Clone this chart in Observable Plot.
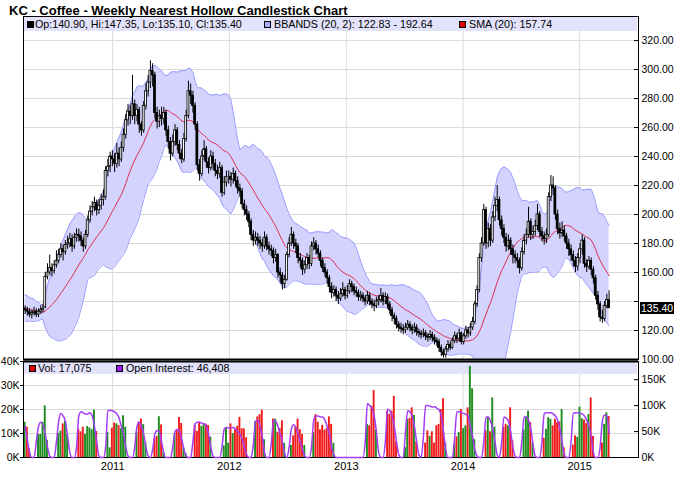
<!DOCTYPE html>
<html><head><meta charset="utf-8">
<script src="https://cdn.jsdelivr.net/npm/d3@7"></script>
<script src="https://cdn.jsdelivr.net/npm/@observablehq/plot@0.6"></script>
<style>
body{margin:0;background:#fff;}
#chart{position:relative;width:679px;height:497px;font-family:"Liberation Sans",Arial,sans-serif;overflow:hidden;background:#fff;}
#chart svg{position:absolute;left:0;top:0;}
.title{position:absolute;left:9px;top:3px;font-weight:bold;font-size:13px;color:#000;white-space:nowrap;}
.band{position:absolute;background:#e2e2fa;}
.lg{position:absolute;font-size:10.7px;white-space:nowrap;color:#000;line-height:12px;}
.sq{position:absolute;width:5px;height:5px;border:1px solid #000;}
.pbox{position:absolute;background:#000;color:#fff;font-size:10.5px;line-height:12px;padding:0 1px;white-space:nowrap;}
</style>
</head><body><div id="chart"></div>
<script>
// ---------- DATA ----------
const firstWeek = "2010-04-02"; // weekly candles (Fridays) through 2015-04-03
const lastWeek = "2015-04-03";
const yearTicks = ["2011-01-01","2012-01-01","2013-01-01","2014-01-01","2015-01-01"];
const priceTicks = [100,120,140,160,180,200,220,240,260,280,300,320];
const volTicks = [0,10,20,30,40];          // thousands
const oiTicks = [0,50,100,150];            // thousands

// values printed in the legends of the reference
const legendBBands = [122.83, 192.64];
const legendSMA = 157.74;
const legendVol = 17075;
const legendOI = 46408;

// closes of the 19 weeks before the first drawn week (for the 20-week bands)
const warmupCloses = [141,143,140,138,142,139,141,137,140,136,132,130,131,133,130,128,132,134,131];

const opens = [
135,134,133,131,132,133,131,133,134,136,
157,160,163,161,165,168,172,176,174,179,
180,183,178,184,186,185,182,178,186,196,
202,205,208,203,206,210,212,230,233,240,
238,235,242,238,246,255,265,271,268,276,
268,272,262,258,275,285,291,299,296,270,
264,268,266,270,258,250,242,250,258,248,
242,238,252,268,285,282,275,262,234,228,
240,245,236,232,240,235,230,228,232,215,
222,226,226,224,228,223,218,216,207,203,
200,195,186,182,184,182,180,178,184,178,
176,175,170,172,160,158,152,155,172,180,
186,180,178,170,168,162,165,170,166,178,
180,176,173,168,163,160,156,150,146,148,
144,142,145,148,144,147,152,150,147,146,
143,144,142,140,144,140,138,137,140,141,
144,140,143,138,134,130,128,124,122,121,
120,122,124,122,120,122,119,118,117,118,
116,115,117,115,113,112,108,105,103,107,
110,108,113,116,114,118,112,116,120,118,
122,126,138,148,170,180,203,180,190,182,
198,206,210,196,190,184,178,182,176,172,
170,168,163,174,182,186,195,186,188,192,
200,188,185,183,186,212,220,218,200,190,
187,189,185,180,176,172,168,164,170,176,
182,166,164,168,162,156,144,138,129,128,
137,140.9];

const highs = [
137,136,135,134,136,135,135,137,138,160,
166,172,166,168,175,176,180,179,182,185,
187,186,187,190,190,188,184,189,199,206,
209,212,210,210,214,217,233,238,243,244,
242,249,246,250,259,269,276,275,296,279,
276,274,264,278,290,296,306,304,298,274,
272,274,274,272,261,253,255,262,260,251,
245,256,272,292,290,285,277,264,238,244,
251,247,239,244,243,238,234,236,234,226,
230,230,229,232,230,226,221,218,210,206,
202,197,189,188,187,185,183,188,186,181,
179,177,176,173,163,160,158,174,184,191,
188,183,180,173,170,168,173,172,181,184,
182,179,175,170,166,162,158,153,151,150,
147,149,153,150,151,155,154,152,150,148,
147,146,144,147,146,142,141,143,144,149,
146,146,145,140,136,132,130,126,125,124,
125,127,126,124,125,124,121,120,121,120,
118,120,119,117,115,114,110,107,109,113,
112,115,119,118,121,119,118,123,122,125,
129,140,151,173,184,207,205,194,193,202,
212,220,212,199,193,187,186,184,179,175,
173,170,177,186,190,205,197,192,196,207,
202,191,188,190,215,227,226,220,203,194,
195,192,187,183,179,175,171,173,180,186,
184,169,171,170,164,158,147,140,134,140,
145,147.35];

const lows = [
131,130,129,128,130,129,129,131,132,135,
155,158,157,159,163,166,170,168,172,176,
177,174,176,181,181,178,174,176,184,194,
199,202,199,200,203,206,210,226,229,233,
229,232,233,236,243,252,261,262,265,262,
264,256,254,256,272,281,287,288,266,259,
260,261,262,254,245,237,240,247,244,238,
235,236,250,266,276,270,258,230,223,226,
237,232,228,230,231,226,224,225,212,213,
219,221,219,221,219,214,212,204,199,196,
191,182,178,179,178,176,174,176,175,172,
171,166,167,156,153,148,149,154,170,178,
176,173,166,163,158,159,162,162,164,175,
172,170,164,160,157,152,146,142,143,140,
138,140,143,141,142,145,146,144,143,140,
140,139,137,138,137,135,133,135,137,139,
137,138,135,131,126,124,121,119,118,117,
118,120,119,117,118,116,115,114,115,113,
112,113,112,110,109,105,102,101,101,105,
106,107,111,111,112,110,110,114,115,116,
120,124,136,146,167,178,176,177,178,180,
195,202,192,185,180,174,175,172,166,166,
163,159,161,172,179,184,182,183,185,189,
184,181,179,180,184,209,213,196,186,183,
184,181,176,171,168,164,160,161,166,172,
163,160,162,158,152,141,134,126,125,126,
135,135.1];

const closes = [
134,133,131,132,133,131,133,134,135,157,
160,163,161,165,168,172,176,174,179,180,
183,178,184,186,185,182,178,186,196,202,
205,208,203,206,210,212,230,233,240,238,
235,242,238,246,255,265,271,268,276,268,
272,262,258,275,285,291,299,296,270,264,
268,266,270,258,250,242,250,258,248,242,
238,252,268,285,282,275,262,234,228,240,
245,236,232,240,235,230,228,232,215,222,
226,226,224,228,223,218,216,207,203,200,
195,186,182,184,182,180,178,184,178,176,
175,170,172,160,158,152,155,172,180,186,
180,178,170,168,162,165,170,166,178,180,
176,173,168,163,160,156,150,146,148,144,
142,145,148,144,147,152,150,147,146,143,
144,142,140,144,140,138,137,140,141,144,
140,143,138,134,130,128,124,122,121,120,
122,124,122,120,122,119,118,117,118,116,
115,117,115,113,112,108,105,103,107,110,
108,113,116,114,118,112,116,120,118,122,
126,138,148,170,180,203,180,190,182,198,
206,210,196,190,184,178,182,176,172,170,
168,163,174,182,186,195,186,188,192,200,
188,185,183,186,212,220,218,200,190,187,
189,185,180,176,172,168,164,170,176,182,
166,164,168,162,156,144,138,129,128,137,
141,135.4];

// weekly volume of the nearest contract, thousands
const volumes = [
14.7,12.6,3.7,0,0,0,9.6,9.6,14.7,21.5,
7,0,0,0,0,10,11,14,15,9.6,
0,0,0,0,11.8,10.7,12.6,9.7,12.9,12.3,
11.6,19.7,10.8,0,0,0,0,10.4,4,12.2,
14.4,14,13.3,12,17.4,12.6,0,0,0,0,
10.5,14.7,16,13.7,6.1,0,0,0,7.8,8.8,
17,13.6,2.3,0,0,0,0,9.8,11.2,16.7,
14.2,4,1.6,0,0,0,13.4,10.9,14.7,13,
13.7,13.9,13.3,8.4,0,0,0,0,0,4.8,
12.2,6,14,10,11.5,13,16.7,12,11.9,8.2,
0,0,0,14.9,16.9,17.8,19.7,7.4,0,0,
0,16,16,10.5,12,15.3,5.9,0,0,5,
9,12.6,16,11.6,9.6,5,0,0,0,10.3,
17.8,14.7,11.5,13.4,11.4,12,16.9,13.8,5.9,0,
0,0,0,0,0,0,0,0,0,0,
0,0,0,13.8,13.2,21.4,27.9,11.5,0,0,
0,0,19.3,18,19.3,25.5,6.6,0,0,0,
4.2,15.9,16.2,20.7,17.5,6.6,0,0,0,6,
11.1,8.8,10.7,6,13.2,13.8,20,24.5,6,0,
0,0,5.6,8.6,10.4,20,12,13.2,20.7,38,
28.6,7.4,0,0,0,0,11.1,16.6,10.7,24.8,
12.7,0,0,0,12.5,13.8,13.2,20.7,7,0,
0,0,0,11.5,16.8,19.3,14.5,6,0,0,
0,0,8,11.8,16.6,15.9,13.2,15.9,14.5,14.8,
20,4,0,0,0,5.2,9,8.4,21,16.2,
15.6,14.1,17.9,24.8,8.8,0,0,0,6,13.8,
18.6,17.075];

// open interest of the nearest contract, thousands
const openInterest = [
60,35,10,0,0,30,60,68,62,45,
20,3,0,0,30,70,85,80,70,40,
10,0,0,20,80,88,86,84,84,86,
80,60,30,3,0,0,20,90,91,90,
88,84,76,60,45,20,3,0,0,20,
60,68,60,45,20,3,0,15,45,52,
50,30,8,0,0,0,20,50,54,50,
35,15,3,0,0,30,65,68,68,66,
65,60,45,20,3,0,0,0,20,55,
58,57,57,58,55,50,45,35,20,5,
0,0,25,70,72,60,40,10,0,0,
25,72,70,60,45,30,8,0,20,55,
63,58,45,30,15,3,0,0,20,72,
80,80,78,78,72,60,45,20,5,0,
0,0,0,0,0,0,0,0,0,0,
0,0,30,104,100,95,80,50,10,0,
0,30,93,90,80,60,30,5,0,0,
50,90,88,80,60,30,5,0,40,100,
100,99,97,98,95,92,80,50,15,0,
0,0,40,88,88,86,85,83,80,60,
40,15,3,0,0,30,78,78,70,55,
30,5,0,30,78,76,70,50,20,3,
0,0,30,78,78,72,55,25,3,0,
0,30,84,86,86,86,84,80,72,55,
30,5,0,0,30,85,86,86,85,84,
80,72,60,40,10,0,0,20,70,82,
80,46.408];

// ---------- BUILD ----------
const dates = d3.utcFriday.range(new Date(firstWeek + "T00:00Z"), d3.utcDay.offset(new Date(lastWeek + "T00:00Z"), 1));
const n = Math.min(dates.length, closes.length);
const DAY = 864e5;
const candles = d3.range(n).map(i => ({
  date: dates[i], open: opens[i], high: highs[i], low: lows[i], close: closes[i],
  prev: i ? closes[i - 1] : warmupCloses[warmupCloses.length - 1],
  vol: volumes[i], oi: openInterest[i]
}));
const allCloses = warmupCloses.concat(closes);
const bands = candles.map((d, i) => {
  const w = allCloses.slice(i, i + 20);
  const m = d3.mean(w);
  const s = Math.sqrt(d3.mean(w, v => (v - m) ** 2));
  return {date: d.date, sma: m, upper: m + 2 * s, lower: m - 2 * s};
});
const yearDates = yearTicks.map(s => new Date(s + "T00:00Z"));
const xDomain = [new Date("2010-03-28T00:00Z"), new Date("2015-07-04T00:00Z")];
const W = 679, H = 497, ML = 23, MR = 41;
const grid = "#d9d9d9";
const font = "'Liberation Sans', Arial, sans-serif";
const xOpt = {type: "utc", domain: xDomain, axis: null, label: null};

const main = Plot.plot({
  width: W, height: H, marginLeft: ML, marginRight: MR, marginTop: 16, marginBottom: 138,
  style: {background: "white", fontFamily: font, fontSize: "10.5px", color: "#000"},
  x: xOpt,
  y: {domain: [100, 336.6], axis: null, label: null},
  marks: [
    Plot.gridY({ticks: priceTicks, stroke: grid, strokeOpacity: 1}),
    Plot.gridX({ticks: yearDates, stroke: grid, strokeOpacity: 1}),
    Plot.areaY(bands, {x: "date", y1: "lower", y2: "upper", fill: "#d3d3fd", clip: true}),
    Plot.lineY(bands, {x: "date", y: "upper", stroke: "#9a9aff", strokeWidth: 1, clip: true}),
    Plot.lineY(bands, {x: "date", y: "lower", stroke: "#9a9aff", strokeWidth: 1, clip: true}),
    Plot.lineY(bands, {x: "date", y: "sma", stroke: "#dc2f52", strokeWidth: 1, clip: true}),
    Plot.ruleX(candles, {x: "date", y1: "low", y2: "high", stroke: "#000", strokeWidth: 1}),
    Plot.rect(candles, {
      x1: d => new Date(+d.date - 3 * DAY), x2: d => new Date(+d.date + 3 * DAY),
      y1: "open", y2: "close",
      fill: d => d.close > d.open ? "#fff" : (d.close >= d.prev ? "#808080" : "#000"),
      stroke: "#000", strokeWidth: 0.8
    }),
    Plot.frame({stroke: "#000"}),
    Plot.ruleY([100], {stroke: "#000", strokeWidth: 2}),
    Plot.axisY({ticks: priceTicks, anchor: "right", tickSize: 5, dx: -5, tickFormat: () => "", stroke: "#000", label: null}),
    Plot.axisY({ticks: priceTicks.filter(t => t !== 140), anchor: "right", tickSize: 0, tickPadding: 3, tickFormat: d3.format(".2f"), fill: "#000", label: null})
  ]
});

const volGrid = Plot.plot({
  width: W, height: H, marginLeft: ML, marginRight: MR, marginTop: 361, marginBottom: 40,
  style: {background: "transparent"},
  x: xOpt,
  y: {domain: [0, 40], axis: null, label: null},
  marks: [
    Plot.gridY({ticks: volTicks.slice(1, -1), stroke: grid, strokeOpacity: 1}),
    Plot.gridX({ticks: yearDates, stroke: grid, strokeOpacity: 1})
  ]
});

const vol = Plot.plot({
  width: W, height: H, marginLeft: ML, marginRight: MR, marginTop: 361, marginBottom: 40,
  style: {background: "transparent", fontFamily: font, fontSize: "10.5px", color: "#000", overflow: "visible"},
  x: xOpt,
  y: {domain: [0, 40], axis: null, label: null},
  marks: [
    Plot.rectY(candles.filter(d => d.vol > 0), {
      x1: d => new Date(+d.date - 3 * DAY), x2: d => new Date(+d.date + 3 * DAY),
      y: "vol", fill: d => d.close >= d.prev ? "#1e8c1e" : "#f01c1c"
    }),
    Plot.axisY({ticks: volTicks, anchor: "left", tickSize: 3, tickPadding: 1, tickFormat: d => d + "K", fill: "#000", label: null}),
    Plot.axisX({ticks: yearDates, anchor: "bottom", tickSize: 0, tickPadding: 5, tickFormat: d3.utcFormat("%Y"), fill: "#000", fontSize: "11px", label: null}),
    Plot.frame({stroke: "#000"}),
    Plot.ruleY([40], {stroke: "#000", strokeWidth: 2})
  ]
});

const oi = Plot.plot({
  width: W, height: H, marginLeft: ML, marginRight: MR, marginTop: 361, marginBottom: 40,
  style: {background: "transparent", fontFamily: font, fontSize: "10.5px", color: "#000"},
  x: xOpt,
  y: {domain: [0, 185], axis: null, label: null},
  marks: [
    Plot.lineY(candles, {x: "date", y: "oi", stroke: "#a23cf5", strokeWidth: 1.5, curve: "monotone-x"}),
    Plot.axisY({ticks: oiTicks, anchor: "right", tickSize: 5, dx: -5, tickFormat: () => "", stroke: "#000", label: null}),
    Plot.axisY({ticks: oiTicks, anchor: "right", tickSize: 0, tickPadding: 3, tickFormat: d => d + "K", fill: "#000", label: null})
  ]
});

const chart = document.getElementById("chart");
function div(cls, css, text) {
  const e = document.createElement("div");
  e.className = cls;
  Object.assign(e.style, css);
  if (text != null) e.textContent = text;
  chart.appendChild(e);
  return e;
}
const last = candles[n - 1];
chart.appendChild(main);
chart.appendChild(volGrid);
div("band", {left: "24px", top: "17px", width: "613px", height: "14px"});
div("band", {left: "24px", top: "362px", width: "613px", height: "12px"});
chart.appendChild(vol);
chart.appendChild(oi);

div("title", {}, "KC - Coffee - Weekly Nearest Hollow Candlestick Chart");
div("sq", {left: "27px", top: "21px", background: "#000"});
div("lg", {left: "35px", top: "18px"},
  `Op:${last.open.toFixed(2)}, Hi:${last.high.toFixed(2)}, Lo:${last.low.toFixed(2)}, Cl:${last.close.toFixed(2)}`);
div("sq", {left: "264px", top: "21px", background: "#a8a8f8"});
div("lg", {left: "274px", top: "18px"}, `BBANDS (20, 2): ${legendBBands[0].toFixed(2)} - ${legendBBands[1].toFixed(2)}`);
div("sq", {left: "459px", top: "21px", background: "#e00000"});
div("lg", {left: "469px", top: "18px"}, `SMA (20): ${legendSMA.toFixed(2)}`);
div("sq", {left: "29px", top: "365px", background: "#e00000"});
div("lg", {left: "38px", top: "362px"}, "Vol: " + d3.format(",")(legendVol));
div("sq", {left: "116px", top: "365px", background: "#9a1cf0"});
div("lg", {left: "126px", top: "362px"}, "Open Interest: " + d3.format(",")(legendOI));
const yLast = main.scale("y").apply(last.close);
div("pbox", {left: "640px", top: (yLast - 6) + "px"}, last.close.toFixed(2));
</script></body></html>
